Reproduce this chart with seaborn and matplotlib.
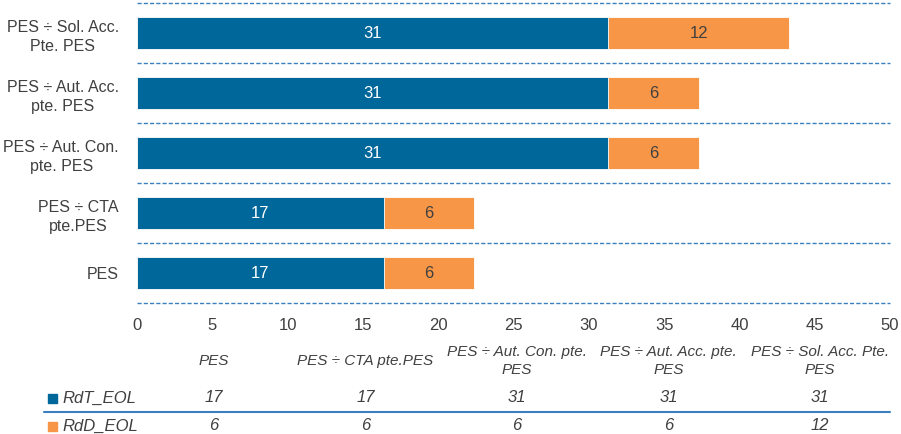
import matplotlib.pyplot as plt
import seaborn as sns
import pandas as pd

# chart data (top to bottom as shown on the bars)
categories = ["PES ÷ Sol. Acc.\nPte. PES", "PES ÷ Aut. Acc.\npte. PES",
              "PES ÷ Aut. Con.\npte. PES", "PES ÷ CTA\npte.PES", "PES"]
rdt_eol = [31.3, 31.3, 31.3, 16.4, 16.4]
rdd_eol = [12, 6, 6, 6, 6]
rdt_text = ["31", "31", "31", "17", "17"]
rdd_text = ["12", "6", "6", "6", "6"]

# data table below the chart (left to right)
table_cols = ["PES", "PES ÷ CTA pte.PES", "PES ÷ Aut. Con. pte.\nPES",
              "PES ÷ Aut. Acc. pte.\nPES", "PES ÷ Sol. Acc. Pte.\nPES"]
series_names = ["RdT_EOL", "RdD_EOL"]
x_ticks = [0, 5, 10, 15, 20, 25, 30, 35, 40, 45, 50]

blue = "#00679A"
orange = "#F79646"
grid_blue = "#3A80C0"
txt = "#404040"

sns.set_style("white")
plt.rcParams["font.family"] = ["Liberation Sans", "DejaVu Sans"]

df = pd.DataFrame({"cat": categories, "RdT_EOL": rdt_eol, "RdD_EOL": rdd_eol})
df["total"] = df["RdT_EOL"] + df["RdD_EOL"]

W, H = 901, 434
fig = plt.figure(figsize=(W / 100, H / 100), dpi=100)
ax = fig.add_axes([137 / W, 1 - 303 / H, (890 - 137) / W, 300 / H])

sns.barplot(data=df, x="total", y="cat", color=orange, width=0.52,
            saturation=1, edgecolor="white", linewidth=0.6, ax=ax)
sns.barplot(data=df, x="RdT_EOL", y="cat", color=blue, width=0.52,
            saturation=1, edgecolor="white", linewidth=0.6, ax=ax)

# segment labels
for i in range(len(categories)):
    ax.text(rdt_eol[i] / 2, i, rdt_text[i], ha="center", va="center",
            color="white", fontsize=12)
    ax.text(rdt_eol[i] + rdd_eol[i] / 2, i, rdd_text[i], ha="center",
            va="center", color=txt, fontsize=12)

# dashed separators between categories
for b in range(len(categories) + 1):
    ax.axhline(b - 0.5, color=grid_blue, lw=1.0, ls=(0, (3, 1.5)), clip_on=False)

ax.set_xlim(0, 50)
ax.set_ylim(len(categories) - 0.5, -0.5)
ax.set_xticks(x_ticks)
ax.set_xticklabels([str(t) for t in x_ticks])
ax.set_xlabel("")
ax.set_ylabel("")
ax.tick_params(axis="x", length=0, pad=11, labelsize=12, labelcolor=txt)
ax.tick_params(axis="y", length=0, pad=13, labelsize=11.5, labelcolor=txt)
for s in ax.spines.values():
    s.set_visible(False)
for lbl in ax.get_yticklabels():
    lbl.set_multialignment("center")
    lbl.set_linespacing(1.35)

# data table
col_x = [(214 + 151.5 * i) / W for i in range(len(table_cols))]
for i, c in enumerate(table_cols):
    fig.text(col_x[i], 1 - 361 / H, c, ha="center", va="center",
             style="italic", color=txt, fontsize=11, linespacing=1.3,
             multialignment="center")
rows = [list(reversed(rdt_text)), list(reversed(rdd_text))]
row_y = [398, 426]
for r, (name, vals) in enumerate(zip(series_names, rows)):
    y = 1 - row_y[r] / H
    fig.patches.append(plt.Rectangle((48 / W, y - 4.5 / H), 9 / W, 9 / H,
                                     transform=fig.transFigure,
                                     color=[blue, orange][r]))
    fig.text(62 / W, y, name, ha="left", va="center", style="italic",
             color=txt, fontsize=12)
    for i, v in enumerate(vals):
        fig.text(col_x[i], y, v, ha="center", va="center", style="italic",
                 color=txt, fontsize=12)
fig.add_artist(plt.Line2D([44 / W, 890 / W], [1 - 412 / H, 1 - 412 / H],
                          color=grid_blue, lw=1.5, transform=fig.transFigure))

fig.savefig("out.png", dpi=100)
